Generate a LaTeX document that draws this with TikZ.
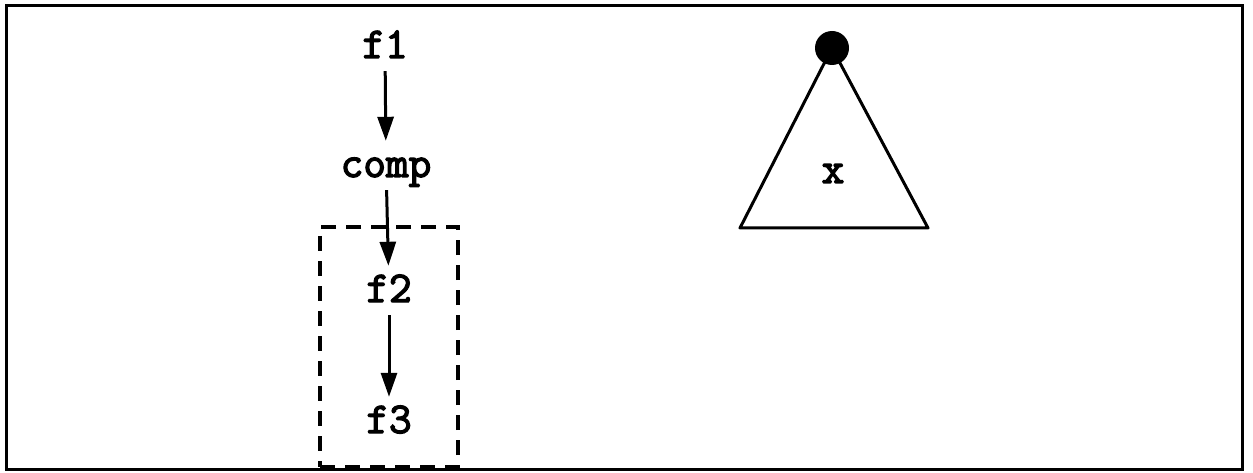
\documentclass[tikz,border=0pt]{standalone}
\usepackage{fontspec}
\setmonofont{Latin Modern Mono}[BoldFont={Latin Modern Mono},BoldFeatures={FakeBold=3}]
\usepackage{tikz}
\usetikzlibrary{arrows.meta,positioning}

\tikzset{
  lbl/.style={font=\ttfamily\bfseries\fontsize{44}{46}\selectfont,anchor=base,
    inner sep=6pt,text height=30pt,text depth=7pt},
  flow/.style={-{Triangle[length=24pt,width=16pt]},line width=3pt},
  grpbox/.style={draw,dashed,dash pattern=on 15pt off 10pt,line width=3.5pt,
    minimum width=138pt,minimum height=240pt,inner sep=0pt},
  tri/.style={line width=3pt,line join=round}
}

\begin{document}
\begin{tikzpicture}[x=1pt,y=-1pt]
\useasboundingbox (0,0) rectangle (1253,473);
\draw[line width=3pt] (6,6) rectangle (1242,469);

% call chain
\node[grpbox] (grp) at (389,347) {};
\node[lbl] (f1) at (385,58) {f1};
\node[lbl] (comp) at (386,177) {comp};
\node[lbl] (f2) at (389,302) {f2};
\node[lbl] (f3) at (389,433) {f3};
\draw[flow] (f1) -- (comp);
\draw[flow] (comp) -- (f2);
\draw[flow] (f2) -- (f3);

% tree
\coordinate (apex) at (832,48);
\coordinate (bl) at (740,228);
\coordinate (br) at (928,228);
\draw[tri] (apex) -- (bl) -- (br) -- cycle;
\node[circle,fill,inner sep=0pt,minimum size=34pt] (root) at (apex) {};
\node[lbl] (x) at (833,183) {x};
\end{tikzpicture}
\end{document}
